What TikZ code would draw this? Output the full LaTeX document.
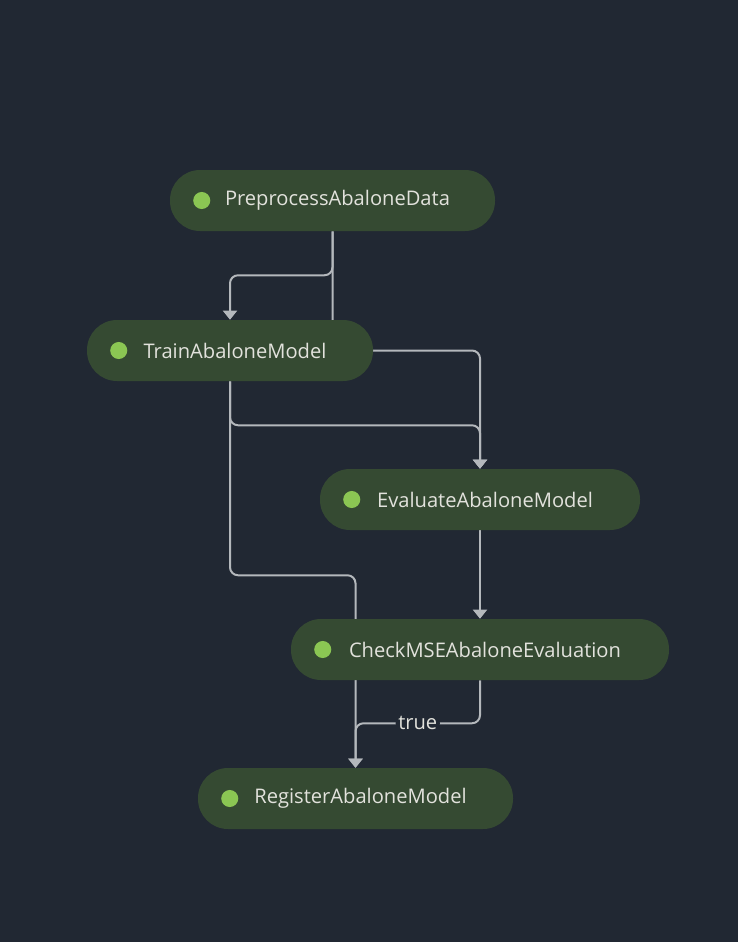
\documentclass[tikz,border=0pt]{standalone}
\usepackage{fontspec}
\setmainfont{Open Sans}
\usetikzlibrary{arrows.meta}
\definecolor{bgnavy}{HTML}{212833}
\definecolor{stepgreen}{HTML}{354A32}
\definecolor{dotgreen}{HTML}{8BC653}
\definecolor{labelgray}{HTML}{E2E2DC}
\definecolor{edgegray}{HTML}{B4B8BC}
\pgfdeclarelayer{bg}
\pgfdeclarelayer{edges}
\pgfsetlayers{bg,edges,main}

\begin{document}
\begin{tikzpicture}[x=0.75pt,y=-0.75pt,
  stepbox/.style={fill=stepgreen, rounded corners=22.5pt, minimum height=45.75pt,
    text=labelgray, font=\fontsize{15.1}{17}\selectfont, inner sep=0pt},
  edge/.style={draw=edgegray, line width=1.5pt, rounded corners=6pt},
  arr/.style={-{Triangle[width=10.5pt,length=6.8pt]}}]
\begin{pgfonlayer}{bg}
\fill[bgnavy] (0,0) rectangle (738,942);
\end{pgfonlayer}
\useasboundingbox (0,0) rectangle (738,942);

\node[stepbox, minimum width=243.75pt] (pre) at (332.5,200.5) {\hspace*{7.5pt}PreprocessAbaloneData};
\node[stepbox, minimum width=214.5pt] (train) at (230,350.5) {\hspace*{7.5pt}TrainAbaloneModel};
\node[stepbox, minimum width=240pt] (eval) at (480,499.5) {\hspace*{7.5pt}EvaluateAbaloneModel};
\node[stepbox, minimum width=283.5pt] (check) at (480,649.5) {\hspace*{7.5pt}CheckMSEAbaloneEvaluation};
\node[stepbox, minimum width=236.25pt] (reg) at (355.5,798.5) {\hspace*{7.5pt}RegisterAbaloneModel};

\foreach \n in {pre,train,eval,check,reg}
  \fill[dotgreen] ([xshift=24pt]\n.west) circle (6.4pt);

\begin{pgfonlayer}{edges}
\draw[edge,arr] (pre.south) -- ++(0,44) -| (train.north);
\draw[edge,arr] (pre.south) -- (pre.south |- train.east) -| (eval.north);
\draw[edge,arr] (train.south) -- ++(0,44) -| (eval.north);
\draw[edge,arr] (train.south) -- ++(0,194) -| (reg.north);
\draw[edge,arr] (eval.south) -- (check.north);
\draw[edge,arr] (check.south) -- ++(0,43) -| node[pos=0.25, fill=bgnavy, text=labelgray,
  font=\fontsize{15.1}{17}\selectfont, inner xsep=2pt, inner ysep=1pt] {true} (reg.north);
\end{pgfonlayer}
\end{tikzpicture}
\end{document}
